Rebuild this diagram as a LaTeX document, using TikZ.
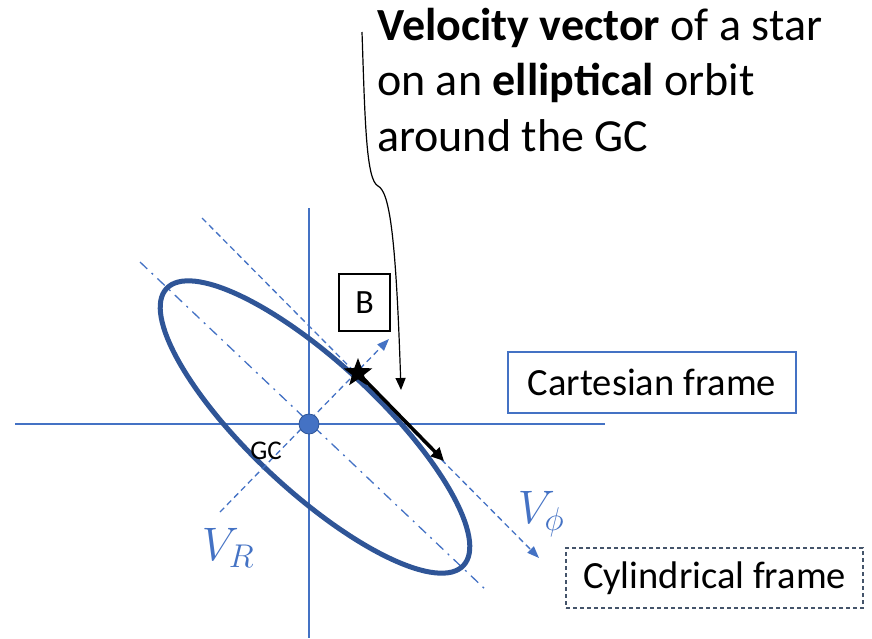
\documentclass[tikz,border=0pt]{standalone}
\usepackage{fix-cm}
\usepackage{fontspec}
\setmainfont{Carlito}
\usetikzlibrary{shapes.geometric,arrows.meta}
\definecolor{axisblue}{HTML}{4472C4}
\definecolor{orbitblue}{HTML}{2F5597}
\definecolor{boxgray}{HTML}{44546A}
\tikzset{
  axisline/.style={axisblue, line width=1.3pt},
  framearrow/.style={axisblue, line width=1.3pt, dash pattern=on 6pt off 4pt, -{Triangle[length=12pt,width=9pt]}},
  dashdotline/.style={axisblue, line width=1.3pt, dash pattern=on 10pt off 6pt on 2pt off 6pt},
  labelbox/.style={draw, line width=1.2pt, inner sep=0pt, font=\fontsize{38.5}{44}\selectfont},
}
\begin{document}
\begin{tikzpicture}[x=1pt,y=1pt]
\useasboundingbox (0,0) rectangle (872,-638);
% axes
\coordinate (hL) at (15,-424);
\coordinate (hR) at (605,-424);
\coordinate (vT) at (309,-208);
\coordinate (vB) at (309,-638);
\draw[axisline] (hL) -- (hR);
\draw[axisline] (vT) -- (vB);
% dash-dot major axis
\coordinate (dd1) at (140,-262);
\coordinate (dd2) at (486,-590);
\draw[dashdotline] (dd1) -- (dd2);
% ellipse orbit
\draw[orbitblue, line width=5pt, rotate around={-43:(315,-427)}] (315,-427) ellipse (203 and 64);
% frame arrows
\coordinate (vr0) at (220,-512);
\coordinate (vr1) at (389,-339);
\draw[framearrow] (vr0) -- (vr1);
\coordinate (vp0) at (202,-218);
\coordinate (vp1) at (539,-558);
\draw[framearrow] (vp0) -- (vp1);
% GC
\node[circle, fill=axisblue, draw=orbitblue, line width=0.8pt, minimum size=20pt, inner sep=0pt] (gc) at (309,-424) {};
\node[font=\fontsize{27}{30}\selectfont, inner sep=0pt] (gclabel) at (266,-451) {GC};
% star and velocity vector
\node[star, star points=5, star point ratio=2.4, fill=black, minimum size=30pt, inner sep=0pt] (star) at (358,-373) {};
\coordinate (vtip) at (444,-461);
\draw[black, line width=3.5pt, -{Triangle[length=13pt,width=12pt]}] (star.center) -- (vtip);
% B box
\node[draw, line width=1.2pt, minimum width=51pt, minimum height=57pt, inner sep=0pt, font=\fontsize{34}{38}\selectfont] (B) at (364.5,-302.5) {B};
% title text
\node[anchor=base west, align=left, inner sep=0pt, font=\fontsize{46}{55.5}\selectfont] (title) at (377,-151) {\textbf{Velocity vector} of a star\\on an \textbf{elliptical} orbit\\around the GC};
% callout
\coordinate (c0) at (362,-32);
\coordinate (cend) at (401,-390);
\draw[black, line width=1.2pt, -{Triangle[length=12pt,width=10pt]}] (c0) .. controls (365,-120) and (366,-180) .. (378,-186) .. controls (390,-192) and (396,-240) .. (cend);
% frame boxes
\node[labelbox, draw=axisblue, minimum width=288pt, minimum height=61pt] (cart) at (652,-382.5) {Cartesian frame};
\node[labelbox, draw=boxgray, dashed, dash pattern=on 4pt off 3pt, minimum width=297pt, minimum height=60pt] (cyl) at (714.5,-578) {Cylindrical frame};
% velocity component labels
\node[axisblue, font=\fontsize{47}{50}\selectfont] (VR) at (228,-548) {$V_R$};
\node[axisblue, font=\fontsize{47}{50}\selectfont] (Vphi) at (541,-514) {$V_\phi$};
\end{tikzpicture}
\end{document}
